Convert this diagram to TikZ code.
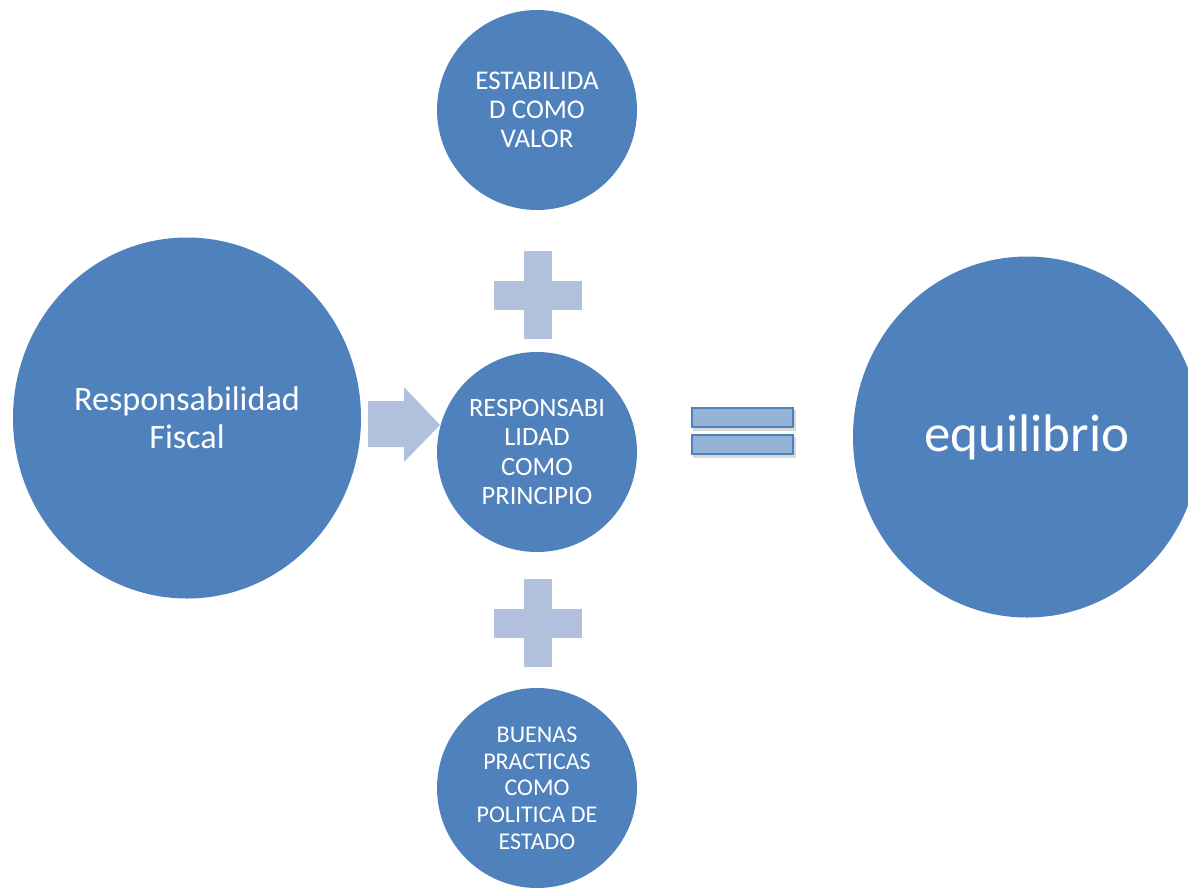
\documentclass[tikz,border=0pt]{standalone}
\usepackage{fontspec}
\setmainfont{Carlito}
\usetikzlibrary{shapes.geometric}
\definecolor{circblue}{RGB}{79,129,189}
\definecolor{lightop}{RGB}{177,193,221}
\definecolor{eqfill}{RGB}{149,178,215}
\tikzset{
  bubble/.style={circle, fill=circblue, draw=none, inner sep=0pt, minimum size=200pt,
    text=white, align=center},
  bigbubble/.style={ellipse, fill=circblue, draw=none, inner sep=0pt,
    minimum width=348pt, minimum height=361pt, text=white, align=center},
  opfill/.style={fill=lightop, draw=none},
  eqbar/.style={fill=eqfill, draw=circblue, line width=1.8pt},
  eqshadow/.style={fill=black, opacity=0.15, draw=none},
}
\begin{document}
\begin{tikzpicture}[x=1pt, y=-1pt]
\useasboundingbox (0,0) rectangle (1188,887);
\clip (0,0) rectangle (1188,887);
\fill[white] (0,0) rectangle (1188,887);

% circles
\node[bigbubble, font=\fontsize{34.2}{38}\selectfont] (fiscal) at (187,418) {Responsabilidad\\Fiscal};
\node[bubble, font=\fontsize{27}{29}\selectfont] (valor) at (537,110) {ESTABILIDA\\D COMO\\VALOR};
\node[bubble, font=\fontsize{26.5}{29.5}\selectfont] (principio) at (537,452) {RESPONSABI\\LIDAD\\COMO\\PRINCIPIO};
\node[bubble, font=\fontsize{24}{26.7}\selectfont] (buenas) at (537,788) {BUENAS\\PRACTICAS\\COMO\\POLITICA DE\\ESTADO};
\node[bigbubble, font=\fontsize{53}{60}\selectfont] (equil) at (1027,437) {equilibrio};

% block arrow
\fill[opfill] (368,401) -- (404,401) -- (404,387) -- (440,425) -- (404,462) -- (404,447) -- (368,447) -- cycle;

% plus signs
\coordinate (plusA) at (538,295);
\coordinate (plusB) at (538,623);
\foreach \p in {plusA, plusB} {
  \fill[opfill] ([xshift=-14pt, yshift=44pt]\p) rectangle ([xshift=14pt, yshift=-44pt]\p);
  \fill[opfill] ([xshift=-44pt, yshift=14.5pt]\p) rectangle ([xshift=44pt, yshift=-14.5pt]\p);
}

% equals sign
\fill[eqshadow] (693,410) rectangle (796,431);
\fill[eqshadow] (693,437) rectangle (796,458);
\draw[eqbar] (692,408) rectangle (793,427);
\draw[eqbar] (692,435) rectangle (793,454);
\end{tikzpicture}
\end{document}
